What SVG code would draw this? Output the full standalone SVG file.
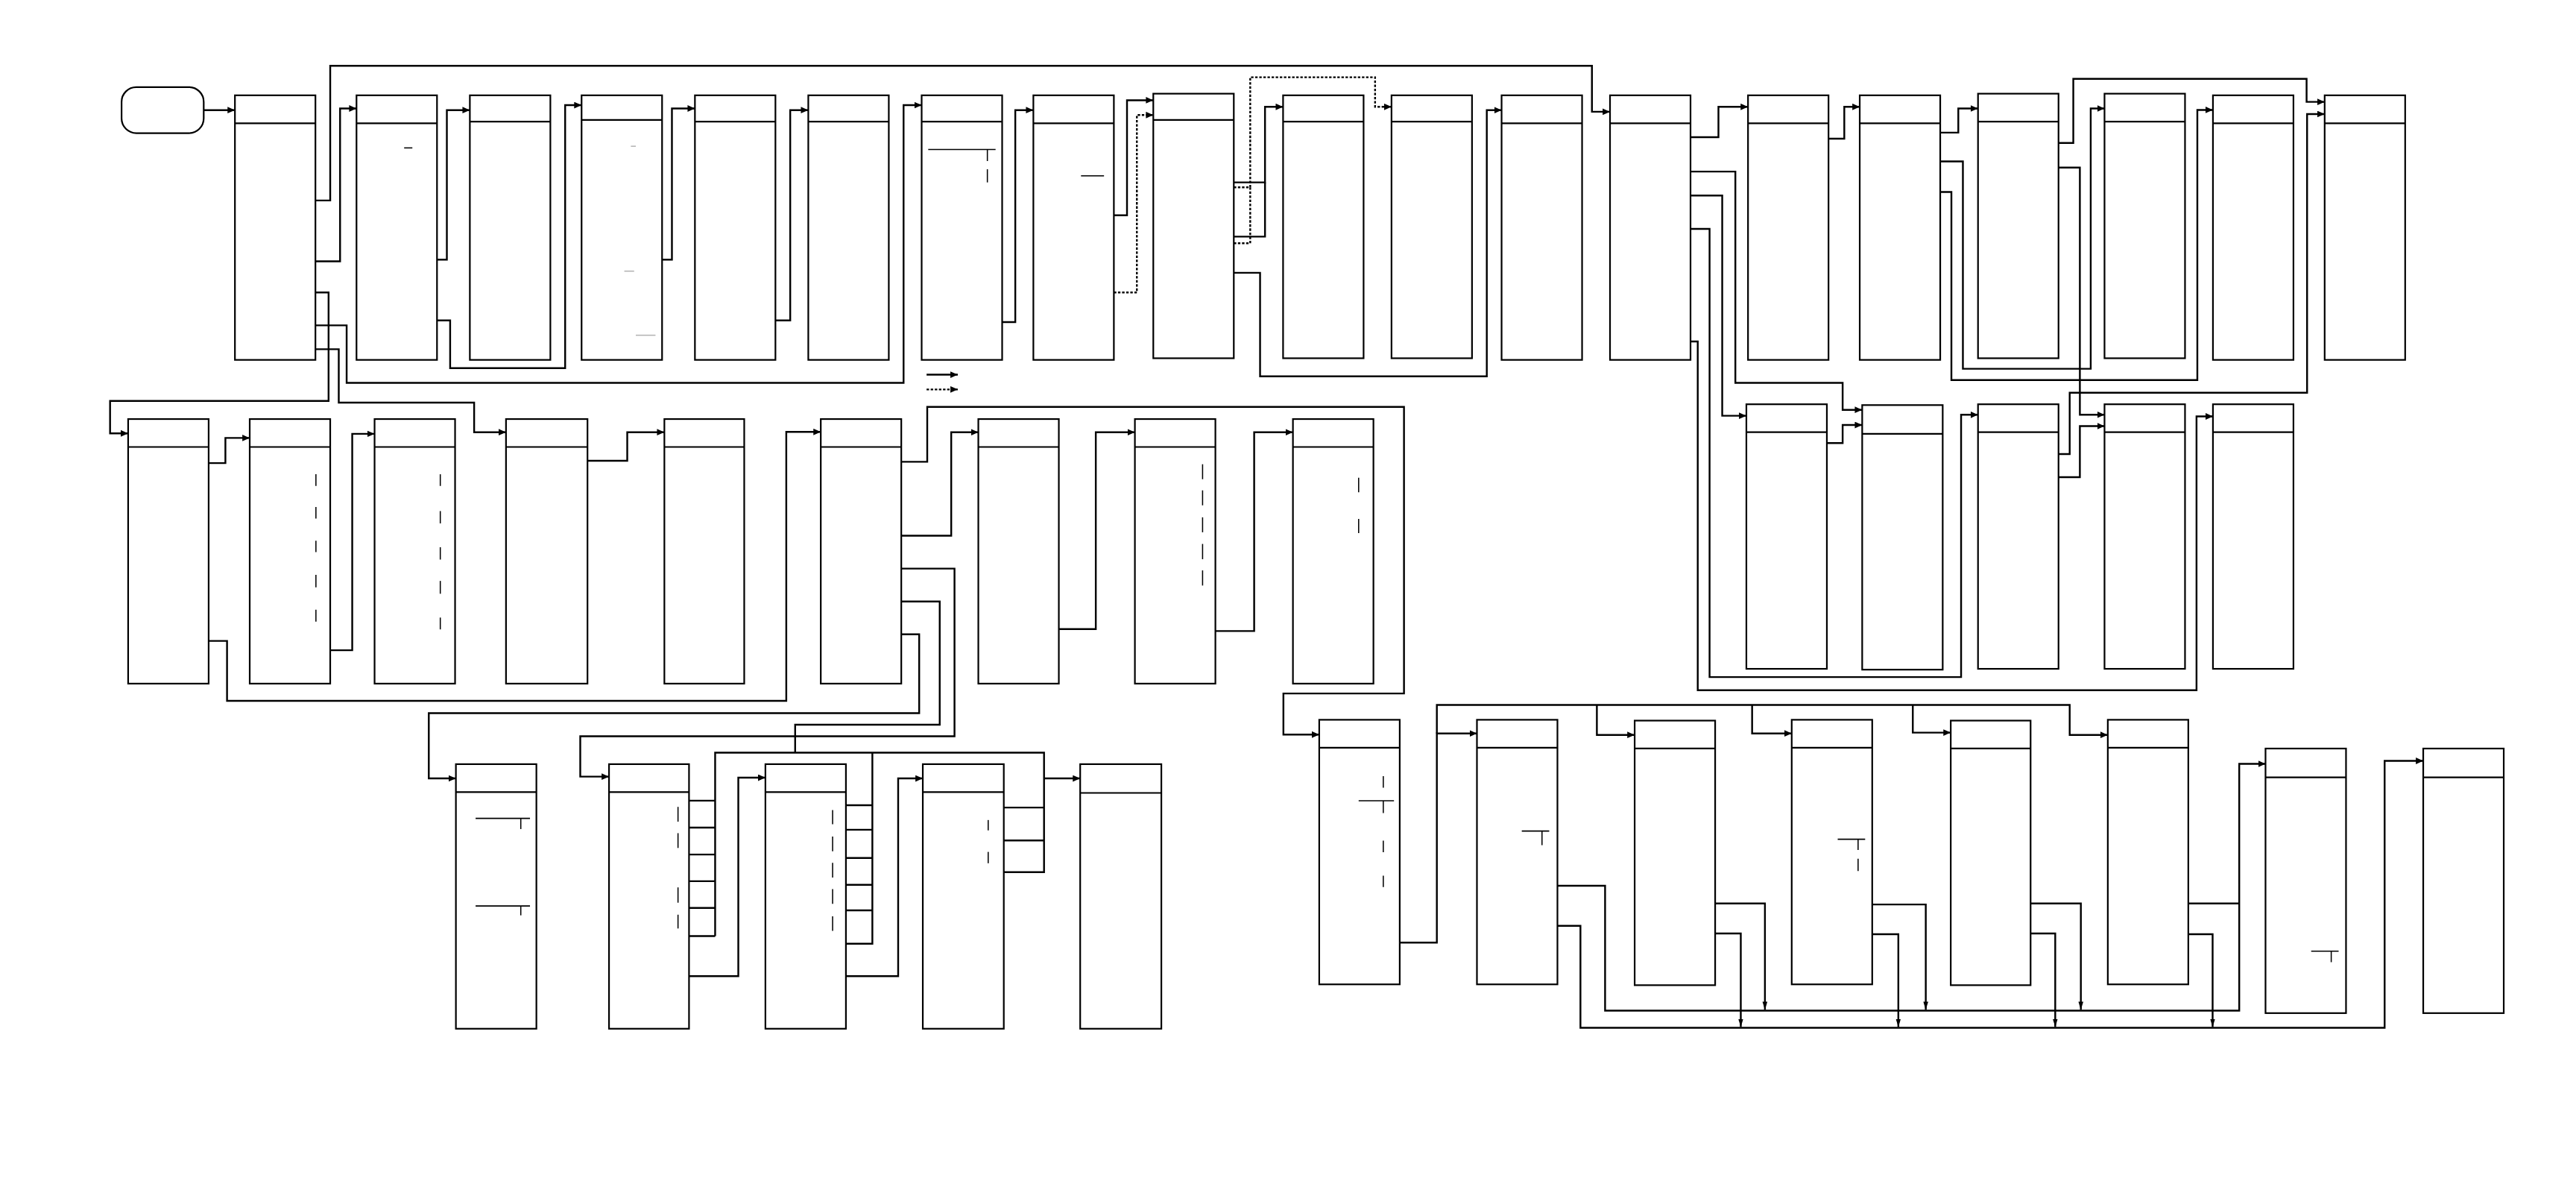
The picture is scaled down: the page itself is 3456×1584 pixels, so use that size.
<svg xmlns="http://www.w3.org/2000/svg" width="3456" height="1584" viewBox="0 0 3456 1584">
<style>
.n{fill:#fff;stroke:#000;stroke-width:1}
.h{stroke:#000;stroke-width:1}
.c{fill:none;stroke:#000;stroke-width:1.1}
.d{fill:none;stroke:#000;stroke-width:1.1;stroke-dasharray:1.5 1}
.m{stroke:#000;stroke-width:0.7}
</style>
<defs>
<marker id="a" markerUnits="userSpaceOnUse" markerWidth="5" markerHeight="5" refX="4.5" refY="2" orient="auto"><path d="M0,0 L4.5,2 L0,4 z" fill="#000"/></marker>
<marker id="t" markerUnits="userSpaceOnUse" markerWidth="5" markerHeight="6" refX="5" refY="1.5" orient="auto"><path d="M0,0 L5,1.5 L0,3 z" fill="#000"/></marker>
</defs>
<rect width="3456" height="1584" fill="#fff"/>
<g transform="scale(2.2041)">
<g id="start"><rect class="n" x="74" y="53" width="50" height="28" rx="9"/></g>
<g id="r1">
<g id="n1"><rect class="n" x="143" y="58" width="49" height="161"/><line class="h" x1="143" y1="75" x2="192" y2="75"/></g>
<g id="n2"><rect class="n" x="217" y="58" width="49" height="161"/><line class="h" x1="217" y1="75" x2="266" y2="75"/><line class="m" x1="246" y1="90" x2="251" y2="90"/></g>
<g id="n3"><rect class="n" x="286" y="58" width="49" height="161"/><line class="h" x1="286" y1="74" x2="335" y2="74"/></g>
<g id="n4"><rect class="n" x="354" y="58" width="49" height="161"/><line class="h" x1="354" y1="73" x2="403" y2="73"/><line class="m" stroke-opacity="0.3" x1="384" y1="89" x2="387" y2="89"/><line class="m" stroke-opacity="0.3" x1="380" y1="165" x2="386" y2="165"/><line class="m" stroke-opacity="0.3" x1="387" y1="204" x2="399" y2="204"/></g>
<g id="n5"><rect class="n" x="423" y="58" width="49" height="161"/><line class="h" x1="423" y1="74" x2="472" y2="74"/></g>
<g id="n6"><rect class="n" x="492" y="58" width="49" height="161"/><line class="h" x1="492" y1="74" x2="541" y2="74"/></g>
<g id="n7"><rect class="n" x="561" y="58" width="49" height="161"/><line class="h" x1="561" y1="74" x2="610" y2="74"/><line class="m" x1="565" y1="91" x2="606" y2="91"/><line class="m" x1="601" y1="91" x2="601" y2="98"/><line class="m" x1="601" y1="103" x2="601" y2="111"/></g>
<g id="n8"><rect class="n" x="629" y="58" width="49" height="161"/><line class="h" x1="629" y1="75" x2="678" y2="75"/><line class="m" x1="658" y1="107" x2="672" y2="107"/></g>
<g id="n9"><rect class="n" x="702" y="57" width="49" height="161"/><line class="h" x1="702" y1="73" x2="751" y2="73"/></g>
<g id="n10"><rect class="n" x="781" y="58" width="49" height="160"/><line class="h" x1="781" y1="74" x2="830" y2="74"/></g>
<g id="n11"><rect class="n" x="847" y="58" width="49" height="160"/><line class="h" x1="847" y1="74" x2="896" y2="74"/></g>
<g id="n12"><rect class="n" x="914" y="58" width="49" height="161"/><line class="h" x1="914" y1="75" x2="963" y2="75"/></g>
<g id="n13"><rect class="n" x="980" y="58" width="49" height="161"/><line class="h" x1="980" y1="75" x2="1029" y2="75"/></g>
<g id="n14"><rect class="n" x="1064" y="58" width="49" height="161"/><line class="h" x1="1064" y1="75" x2="1113" y2="75"/></g>
<g id="n15"><rect class="n" x="1132" y="58" width="49" height="161"/><line class="h" x1="1132" y1="75" x2="1181" y2="75"/></g>
<g id="n16"><rect class="n" x="1204" y="57" width="49" height="161"/><line class="h" x1="1204" y1="74" x2="1253" y2="74"/></g>
<g id="n17"><rect class="n" x="1281" y="57" width="49" height="161"/><line class="h" x1="1281" y1="74" x2="1330" y2="74"/></g>
<g id="n18"><rect class="n" x="1347" y="58" width="49" height="161"/><line class="h" x1="1347" y1="75" x2="1396" y2="75"/></g>
<g id="n19"><rect class="n" x="1415" y="58" width="49" height="161"/><line class="h" x1="1415" y1="75" x2="1464" y2="75"/></g>
</g>
<g id="r2r">
<g id="p1"><rect class="n" x="1063" y="246" width="49" height="161"/><line class="h" x1="1063" y1="263" x2="1112" y2="263"/></g>
<g id="p2"><rect class="n" x="1133.5" y="246.5" width="49" height="161"/><line class="h" x1="1133.5" y1="264" x2="1182.5" y2="264"/></g>
<g id="p3"><rect class="n" x="1204" y="246" width="49" height="161"/><line class="h" x1="1204" y1="263" x2="1253" y2="263"/></g>
<g id="p4"><rect class="n" x="1281" y="246" width="49" height="161"/><line class="h" x1="1281" y1="263" x2="1330" y2="263"/></g>
<g id="p5"><rect class="n" x="1347" y="246" width="49" height="161"/><line class="h" x1="1347" y1="263" x2="1396" y2="263"/></g>
</g>
<g id="r2l">
<g id="q1"><rect class="n" x="78" y="255" width="49" height="161"/><line class="h" x1="78" y1="272" x2="127" y2="272"/></g>
<g id="q2"><rect class="n" x="152" y="255" width="49" height="161"/><line class="h" x1="152" y1="272" x2="201" y2="272"/>
<line class="m" x1="192.3" y1="288.6" x2="192.3" y2="295.7"/><line class="m" x1="192.3" y1="308.5" x2="192.3" y2="315.6"/><line class="m" x1="192.3" y1="329" x2="192.3" y2="336"/><line class="m" x1="192.3" y1="349.8" x2="192.3" y2="357.4"/><line class="m" x1="192.3" y1="371" x2="192.3" y2="378.3"/></g>
<g id="q3"><rect class="n" x="228" y="255" width="49" height="161"/><line class="h" x1="228" y1="272" x2="277" y2="272"/>
<line class="m" x1="268" y1="288.6" x2="268" y2="295.7"/><line class="m" x1="268" y1="311" x2="268" y2="318.5"/><line class="m" x1="268" y1="333" x2="268" y2="340.5"/><line class="m" x1="268" y1="353.5" x2="268" y2="361.3"/><line class="m" x1="268" y1="375.8" x2="268" y2="383"/></g>
<g id="q4"><rect class="n" x="308" y="255" width="49.6" height="161"/><line class="h" x1="308" y1="272" x2="357.6" y2="272"/></g>
<g id="q5"><rect class="n" x="404.4" y="255" width="48.6" height="161"/><line class="h" x1="404.4" y1="272" x2="453" y2="272"/></g>
<g id="q6"><rect class="n" x="499.6" y="255" width="49" height="161"/><line class="h" x1="499.6" y1="272" x2="548.6" y2="272"/></g>
<g id="q7"><rect class="n" x="595.5" y="255" width="49" height="161"/><line class="h" x1="595.5" y1="272" x2="644.5" y2="272"/></g>
<g id="q8"><rect class="n" x="690.8" y="255" width="49" height="161"/><line class="h" x1="690.8" y1="272" x2="739.8" y2="272"/>
<line class="m" x1="732" y1="282.5" x2="732" y2="291.6"/><line class="m" x1="732" y1="298.4" x2="732" y2="307.5"/><line class="m" x1="732" y1="314.8" x2="732" y2="323.9"/><line class="m" x1="732" y1="331" x2="732" y2="340.3"/><line class="m" x1="732" y1="347.1" x2="732" y2="356.3"/></g>
<g id="q9"><rect class="n" x="787" y="255" width="49" height="161"/><line class="h" x1="787" y1="272" x2="836" y2="272"/>
<line class="m" x1="827" y1="290.7" x2="827" y2="299.5"/><line class="m" x1="827" y1="315.8" x2="827" y2="324.4"/></g>
</g>
<g id="r3l">
<g id="u1"><rect class="n" x="277.5" y="465" width="49" height="161"/><line class="h" x1="277.5" y1="482" x2="326.5" y2="482"/>
<line class="m" x1="289.5" y1="498" x2="322.6" y2="498"/><line class="m" x1="317" y1="498" x2="317" y2="504.5"/><line class="m" x1="289.5" y1="551.3" x2="322.6" y2="551.3"/><line class="m" x1="317" y1="551.3" x2="317" y2="557"/></g>
<g id="u2"><rect class="n" x="370.7" y="465" width="48.7" height="161"/><line class="h" x1="370.7" y1="482" x2="419.4" y2="482"/>
<line class="m" x1="412.7" y1="491" x2="412.7" y2="500"/><line class="m" x1="412.7" y1="507" x2="412.7" y2="516"/><line class="m" x1="412.7" y1="540" x2="412.7" y2="549.3"/><line class="m" x1="412.7" y1="556.6" x2="412.7" y2="565"/></g>
<g id="u3"><rect class="n" x="465.9" y="465" width="49" height="161"/><line class="h" x1="465.9" y1="482" x2="514.9" y2="482"/>
<line class="m" x1="506.8" y1="493" x2="506.8" y2="501.6"/><line class="m" x1="506.8" y1="509" x2="506.8" y2="518"/><line class="m" x1="506.8" y1="525" x2="506.8" y2="534"/><line class="m" x1="506.8" y1="541" x2="506.8" y2="550"/><line class="m" x1="506.8" y1="557.6" x2="506.8" y2="566.5"/></g>
<g id="u4"><rect class="n" x="561.7" y="465" width="49.3" height="161"/><line class="h" x1="561.7" y1="482" x2="611" y2="482"/>
<line class="m" x1="601.5" y1="499" x2="601.5" y2="505.3"/><line class="m" x1="601.5" y1="518.4" x2="601.5" y2="525.3"/></g>
<g id="u5"><rect class="n" x="657.5" y="465" width="49.4" height="161"/><line class="h" x1="657.5" y1="482.5" x2="706.9" y2="482.5"/></g>
</g>
<g id="r3r">
<g id="s1"><rect class="n" x="803" y="438" width="49" height="161"/><line class="h" x1="803" y1="455" x2="852" y2="455"/>
<line class="m" x1="842" y1="472.3" x2="842" y2="479.3"/><line class="m" x1="827" y1="487.3" x2="848.5" y2="487.3"/><line class="m" x1="842" y1="487.3" x2="842" y2="494.8"/><line class="m" x1="842" y1="511.5" x2="842" y2="518.6"/><line class="m" x1="842" y1="532.9" x2="842" y2="539.8"/></g>
<g id="s2"><rect class="n" x="899" y="438" width="49" height="161"/><line class="h" x1="899" y1="455" x2="948" y2="455"/>
<line class="m" x1="926.3" y1="505.7" x2="943" y2="505.7"/><line class="m" x1="938.6" y1="505.7" x2="938.6" y2="514.3"/></g>
<g id="s3"><rect class="n" x="995" y="438.5" width="49" height="161"/><line class="h" x1="995" y1="455.5" x2="1044" y2="455.5"/></g>
<g id="s4"><rect class="n" x="1090.6" y="438" width="49" height="161"/><line class="h" x1="1090.6" y1="455" x2="1139.6" y2="455"/>
<line class="m" x1="1118.6" y1="510.7" x2="1135.3" y2="510.7"/><line class="m" x1="1131" y1="510.7" x2="1131" y2="517.2"/><line class="m" x1="1131" y1="522.5" x2="1131" y2="530"/></g>
<g id="s5"><rect class="n" x="1187.4" y="438.5" width="48.6" height="161"/><line class="h" x1="1187.4" y1="455.5" x2="1236" y2="455.5"/></g>
<g id="s6"><rect class="n" x="1283" y="438" width="49" height="161"/><line class="h" x1="1283" y1="455" x2="1332" y2="455"/></g>
<g id="s7"><rect class="n" x="1379" y="455.5" width="49" height="161"/><line class="h" x1="1379" y1="473" x2="1428" y2="473"/>
<line class="m" x1="1406.8" y1="578.8" x2="1423.5" y2="578.8"/><line class="m" x1="1419" y1="578.8" x2="1419" y2="585.5"/></g>
<g id="s8"><rect class="n" x="1475" y="455.5" width="49" height="161"/><line class="h" x1="1475" y1="473" x2="1524" y2="473"/></g>
</g>
<g id="connectors">
<polyline class="c" marker-end="url(#a)" points="124,67 143,67"/>
<polyline class="c" marker-end="url(#a)" points="192,122 201,122 201,40 969,40 969,68 980,68"/>
<polyline class="c" marker-end="url(#a)" points="192,159 207,159 207,66 217,66"/>
<polyline class="c" marker-end="url(#a)" points="266,158 272,158 272,67 286,67"/>
<polyline class="c" marker-end="url(#a)" points="266,195 274,195 274,224 344,224 344,64 354,64"/>
<polyline class="c" marker-end="url(#a)" points="403,158 409,158 409,66 423,66"/>
<polyline class="c" marker-end="url(#a)" points="472,195 481,195 481,67 492,67"/>
<polyline class="c" marker-end="url(#a)" points="192,198 211,198 211,233 550,233 550,64 561,64"/>
<polyline class="c" marker-end="url(#a)" points="610,196 618,196 618,67 629,67"/>
<polyline class="c" marker-end="url(#a)" points="678,131 686,131 686,61 702,61"/>
<polyline class="d" marker-end="url(#a)" points="678,178 692,178 692,70 702,70"/>
<polyline class="c" marker-end="url(#a)" points="751,111 770,111 770,65 781,65"/>
<polyline class="c" points="751,144 770,144 770,111"/>
<polyline class="d" marker-end="url(#a)" points="751,114 761,114 761,47 837,47 837,65 847,65"/>
<polyline class="d" points="751,148 761,148 761,114"/>
<polyline class="c" marker-end="url(#a)" points="751,166 767,166 767,229 905,229 905,67 914,67"/>
<polyline class="c" marker-end="url(#a)" points="564,228 583,228"/>
<polyline class="d" marker-end="url(#a)" points="564,237 583,237"/>
<polyline class="c" marker-end="url(#a)" points="1029,83.5 1046,83.5 1046,65 1064,65"/>
<polyline class="c" marker-end="url(#a)" points="1113,84.4 1122.6,84.4 1122.6,65 1132,65"/>
<polyline class="c" marker-end="url(#a)" points="1181,80.7 1192,80.7 1192,66 1204,66"/>
<polyline class="c" marker-end="url(#a)" points="1253,87 1262,87 1262,48 1404,48 1404,62 1415,62"/>
<polyline class="c" marker-end="url(#a)" points="1029,104.4 1056.3,104.4 1056.3,233 1121.6,233 1121.6,249.4 1133.5,249.4"/>
<polyline class="c" marker-end="url(#a)" points="1029,119 1048.3,119 1048.3,253 1063,253"/>
<polyline class="c" marker-end="url(#a)" points="1029,139.3 1040.6,139.3 1040.6,412 1193.7,412 1193.7,252.4 1204,252.4"/>
<polyline class="c" marker-end="url(#a)" points="1029,207.8 1033.4,207.8 1033.4,420 1337,420 1337,253.4 1347,253.4"/>
<polyline class="c" marker-end="url(#a)" points="1112,269.6 1121.6,269.6 1121.6,258.6 1133.5,258.6"/>
<polyline class="c" marker-end="url(#a)" points="1181,98.2 1194.8,98.2 1194.8,224.4 1272.6,224.4 1272.6,66 1281,66"/>
<polyline class="c" marker-end="url(#a)" points="1181,116.8 1187.8,116.8 1187.8,231.3 1337.5,231.3 1337.5,66.9 1347,66.9"/>
<polyline class="c" marker-end="url(#a)" points="1253,102 1266,102 1266,252.4 1281,252.4"/>
<polyline class="c" marker-end="url(#a)" points="1253,276.3 1259.8,276.3 1259.8,239 1404.3,239 1404.3,69.4 1415,69.4"/>
<polyline class="c" marker-end="url(#a)" points="1253,290.4 1266,290.4 1266,259.3 1281,259.3"/>
<polyline class="c" marker-end="url(#a)" points="192,178 200,178 200,244 67,244 67,263.7 78,263.7"/>
<polyline class="c" marker-end="url(#a)" points="192,212.5 206.2,212.5 206.2,245 288.6,245 288.6,263 308,263"/>
<polyline class="c" marker-end="url(#a)" points="127,281.8 137.2,281.8 137.2,266.5 152,266.5"/>
<polyline class="c" marker-end="url(#a)" points="127,390 138.2,390 138.2,426.5 478.6,426.5 478.6,262.8 499.6,262.8"/>
<polyline class="c" marker-end="url(#a)" points="201,395.7 214.4,395.7 214.4,264 228,264"/>
<polyline class="c" marker-end="url(#a)" points="357.6,280.4 381.8,280.4 381.8,263 404.4,263"/>
<polyline class="c" marker-end="url(#a)" points="548.6,281 564.4,281 564.4,247.6 854.6,247.6 854.6,422 781.2,422 781.2,447 803,447"/>
<polyline class="c" marker-end="url(#a)" points="548.6,326 579,326 579,263 595.5,263"/>
<polyline class="c" marker-end="url(#a)" points="644.5,382.8 667,382.8 667,263 690.8,263"/>
<polyline class="c" marker-end="url(#a)" points="739.8,384 763.4,384 763.4,263 787,263"/>
<polyline class="c" marker-end="url(#a)" points="548.6,346 581,346 581,448 353.2,448 353.2,472.6 370.7,472.6"/>
<polyline class="c" points="548.6,366 572,366 572,441 484,441 484,458"/>
<polyline class="c" marker-end="url(#a)" points="548.6,386 559.5,386 559.5,434 261,434 261,473.7 277.5,473.7"/>
<polyline class="c" points="435.3,569.6 435.3,458 635.5,458 635.5,530.7 611,530.7"/>
<polyline class="c" points="531,458 531,574.3 514.9,574.3"/>
<polyline class="c" marker-end="url(#a)" points="635.5,473.7 657.5,473.7"/>
<path class="c" d="M419.4,487.2H435.3M419.4,503.6H435.3M419.4,520H435.3M419.4,536.2H435.3M419.4,552.5H435.3M419.4,569.6H435.3M514.9,490H531M514.9,504.9H531M514.9,522.1H531M514.9,538.4H531M514.9,554H531M611,491.4H635.5M611,511.4H635.5"/>
<polyline class="c" marker-end="url(#a)" points="419.4,594 449.4,594 449.4,473.2 465.9,473.2"/>
<polyline class="c" marker-end="url(#a)" points="514.9,594 546.7,594 546.7,473.7 561.7,473.7"/>
<polyline class="c" marker-end="url(#a)" points="852,573.6 874.6,573.6 874.6,446.3 899,446.3"/>
<polyline class="c" marker-end="url(#a)" points="874.6,446.3 874.6,429 1259.8,429 1259.8,447.2 1283,447.2"/>
<polyline class="c" marker-end="url(#a)" points="972,429 972,447.2 995,447.2"/>
<polyline class="c" marker-end="url(#a)" points="1066.5,429 1066.5,446.3 1090.6,446.3"/>
<polyline class="c" marker-end="url(#a)" points="1164.3,429 1164.3,445.8 1187.4,445.8"/>
<polyline class="c" marker-end="url(#a)" points="948,539 977,539 977,615 1363,615 1363,464.8 1379,464.8"/>
<polyline class="c" marker-end="url(#a)" points="948,563.4 962,563.4 962,625.4 1451.5,625.4 1451.5,463 1475,463"/>
<polyline class="c" points="1332,549.8 1363,549.8"/>
<polyline class="c" marker-end="url(#t)" points="1044,549.8 1074.3,549.8 1074.3,614.5"/>
<polyline class="c" marker-end="url(#t)" points="1044,568 1059.6,568 1059.6,625"/>
<polyline class="c" marker-end="url(#t)" points="1139.6,550.4 1172.2,550.4 1172.2,614.5"/>
<polyline class="c" marker-end="url(#t)" points="1139.6,568.5 1155.5,568.5 1155.5,625"/>
<polyline class="c" marker-end="url(#t)" points="1236,549.8 1266.6,549.8 1266.6,614.5"/>
<polyline class="c" marker-end="url(#t)" points="1236,568 1251,568 1251,625"/>
<polyline class="c" marker-end="url(#t)" points="1332,568.5 1346.8,568.5 1346.8,625"/>
</g>
</g>
</svg>
